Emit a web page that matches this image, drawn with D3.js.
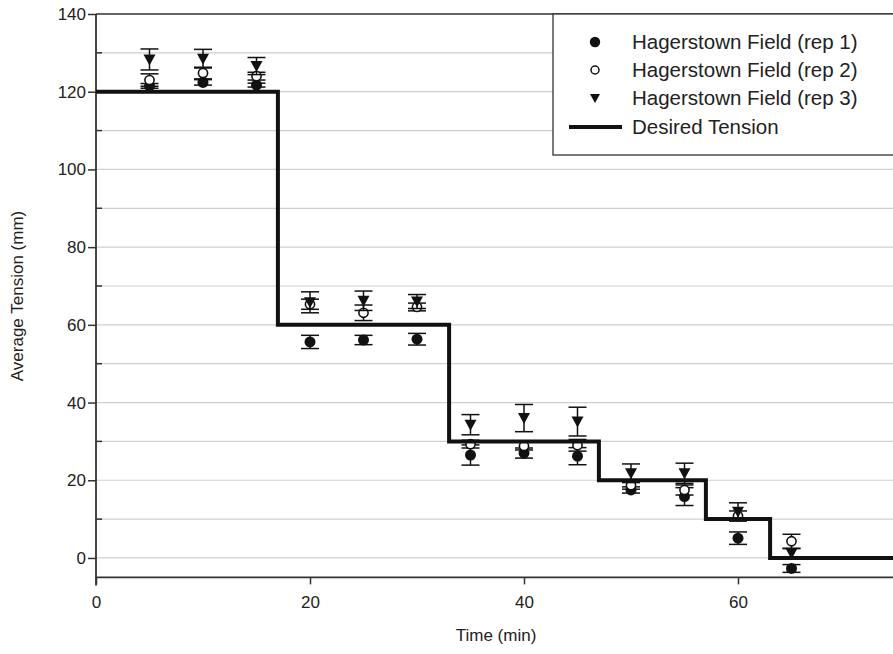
<!DOCTYPE html>
<html>
<head>
<meta charset="utf-8">
<script src="https://cdn.jsdelivr.net/npm/d3@7"></script>
<style>
  body { margin: 0; background: #fff; }
  svg text { font-family: "Liberation Sans", Arial, sans-serif; fill: #222; }
</style>
</head>
<body>
<div id="chart"></div>
<script>
// sampling times (min)
var times = [5, 10, 15, 20, 25, 30, 35, 40, 45, 50, 55, 60, 65];

// average tension (mm) and error for each rep
var rep1 = [121.5, 122.4, 121.7, 55.6, 56.1, 56.3, 26.5, 27.0, 26.2, 17.5, 15.8, 5.1, -2.7];
var rep1Err = [0.6, 0.7, 0.5, 1.7, 1.2, 1.5, 2.6, 1.3, 2.2, 0.8, 2.3, 1.6, 1.0];
var rep2 = [123.0, 124.8, 124.0, 65.3, 63.1, 64.6, 29.3, 28.8, 29.0, 18.7, 17.5, 10.8, 4.3];
var rep2Err = [1.6, 1.5, 1.0, 1.3, 2.0, 1.0, 1.0, 1.0, 1.5, 1.0, 1.3, 1.3, 1.8];
var rep3 = [128.3, 128.5, 126.6, 65.8, 66.2, 66.0, 34.3, 36.0, 35.1, 21.8, 21.8, 11.9, 1.2];
var rep3Err = [2.7, 2.4, 2.2, 2.7, 2.5, 1.8, 2.6, 3.5, 3.7, 2.4, 2.6, 2.3, 1.2];

// desired tension steps
var stepTimes = [0, 17, 33, 47, 57, 63, 75];
var stepValues = [120, 60, 30, 20, 10, 0, 0];

var legendLabels = ["Hagerstown Field (rep 1)", "Hagerstown Field (rep 2)", "Hagerstown Field (rep 3)", "Desired Tension"];

var width = 893, height = 654;
var svg = d3.select("#chart").append("svg")
    .attr("width", width)
    .attr("height", height);

var x = d3.scaleLinear().domain([0, 75]).range([96, 898.5]);
var y = d3.scaleLinear().domain([-5, 140]).range([577.4, 14]);

// grid lines
svg.append("g")
    .selectAll("line")
    .data(d3.range(0, 140, 10))
    .enter().append("line")
    .attr("x1", x(0)).attr("x2", width)
    .attr("y1", function (d) { return y(d); })
    .attr("y2", function (d) { return y(d); })
    .attr("stroke", "#cfcfcf")
    .attr("stroke-width", 1.2);

// top frame
svg.append("line")
    .attr("x1", x(0)).attr("x2", width)
    .attr("y1", y(140)).attr("y2", y(140))
    .attr("stroke", "#333").attr("stroke-width", 1.5);

// y axis (major ticks outside)
var yAxis = d3.axisLeft(y).tickValues(d3.range(0, 141, 20)).tickSize(8).tickPadding(2);
var gy = svg.append("g").attr("transform", "translate(" + x(0) + ",0)").call(yAxis);
gy.select(".domain").remove();
gy.selectAll("line").attr("stroke", "#333").attr("stroke-width", 1.5);
gy.selectAll("text").style("font-size", "17px").attr("fill", "#222");

// minor ticks inside
svg.append("g")
    .selectAll("line")
    .data(d3.range(10, 140, 20))
    .enter().append("line")
    .attr("x1", x(0)).attr("x2", x(0) + 6)
    .attr("y1", function (d) { return y(d); })
    .attr("y2", function (d) { return y(d); })
    .attr("stroke", "#333").attr("stroke-width", 1.5);

// x axis
var xAxis = d3.axisBottom(x).tickValues([0, 20, 40, 60]).tickSize(7).tickPadding(12);
var gx = svg.append("g").attr("transform", "translate(0," + y(-5) + ")").call(xAxis);
gx.select(".domain").remove();
gx.selectAll("line").attr("stroke", "#333").attr("stroke-width", 1.5);
gx.selectAll("text").style("font-size", "17px").attr("fill", "#222");

// axis lines
svg.append("line")
    .attr("x1", x(0)).attr("x2", width)
    .attr("y1", y(-5)).attr("y2", y(-5))
    .attr("stroke", "#333").attr("stroke-width", 1.8);
svg.append("line")
    .attr("x1", x(0)).attr("x2", x(0))
    .attr("y1", y(140)).attr("y2", y(-5) + 8)
    .attr("stroke", "#333").attr("stroke-width", 1.8);

// axis titles
svg.append("text")
    .attr("x", 496).attr("y", 641)
    .attr("text-anchor", "middle")
    .style("font-size", "17px")
    .text("Time (min)");
svg.append("text")
    .attr("transform", "translate(23,296) rotate(-90)")
    .attr("text-anchor", "middle")
    .style("font-size", "17px")
    .text("Average Tension (mm)");

var reps = [
    { values: rep1, err: rep1Err, type: "filled" },
    { values: rep2, err: rep2Err, type: "open" },
    { values: rep3, err: rep3Err, type: "tri" }
];

var capW = 9;
var triPath = "M-6,-5L6,-5L0,6Z";

function drawMarker(g, type) {
    if (type === "filled") {
        g.append("circle").attr("r", 5.5).attr("fill", "#111");
    } else if (type === "open") {
        g.append("circle").attr("r", 4.6).attr("fill", "#fff")
            .attr("stroke", "#111").attr("stroke-width", 1.6);
    } else {
        g.append("path").attr("d", triPath).attr("fill", "#111");
    }
}

reps.forEach(function (rep) {
    var g = svg.append("g");
    var pts = g.selectAll(".pt")
        .data(times.map(function (t, i) { return { t: t, v: rep.values[i], e: rep.err[i] }; }))
        .enter().append("g")
        .attr("class", "pt");

    pts.append("line")
        .attr("x1", function (d) { return x(d.t); })
        .attr("x2", function (d) { return x(d.t); })
        .attr("y1", function (d) { return y(d.v + d.e); })
        .attr("y2", function (d) { return y(d.v - d.e); })
        .attr("stroke", "#111").attr("stroke-width", 1.5);
    [1, -1].forEach(function (s) {
        pts.append("line")
            .attr("x1", function (d) { return x(d.t) - capW; })
            .attr("x2", function (d) { return x(d.t) + capW; })
            .attr("y1", function (d) { return y(d.v + s * d.e); })
            .attr("y2", function (d) { return y(d.v + s * d.e); })
            .attr("stroke", "#111").attr("stroke-width", 1.5);
    });
    pts.each(function (d) {
        var m = d3.select(this).append("g")
            .attr("transform", "translate(" + x(d.t) + "," + y(d.v) + ")");
        drawMarker(m, rep.type);
    });
});

// desired tension line
var stepData = stepTimes.map(function (t, i) { return [t, stepValues[i]]; });
var line = d3.line()
    .x(function (d) { return x(d[0]); })
    .y(function (d) { return y(d[1]); })
    .curve(d3.curveStepAfter);
svg.append("path")
    .datum(stepData)
    .attr("d", line)
    .attr("fill", "none")
    .attr("stroke", "#111")
    .attr("stroke-width", 4);

// legend
var lg = svg.append("g");
lg.append("rect")
    .attr("x", 553).attr("y", 14)
    .attr("width", 360).attr("height", 141)
    .attr("fill", "#fff")
    .attr("stroke", "#333").attr("stroke-width", 1.3);

var rowY = [42, 70, 98, 127];
["filled", "open", "tri"].forEach(function (type, i) {
    var m = lg.append("g").attr("transform", "translate(595," + rowY[i] + ")");
    if (type === "tri") {
        m.append("path").attr("d", "M-5,-4L5,-4L0,5Z").attr("fill", "#111");
    } else if (type === "open") {
        m.append("circle").attr("r", 4).attr("fill", "#fff")
            .attr("stroke", "#111").attr("stroke-width", 1.5);
    } else {
        m.append("circle").attr("r", 5.2).attr("fill", "#111");
    }
});
lg.append("line")
    .attr("x1", 569).attr("x2", 622)
    .attr("y1", rowY[3]).attr("y2", rowY[3])
    .attr("stroke", "#111").attr("stroke-width", 4);

lg.selectAll(".lt")
    .data(legendLabels)
    .enter().append("text")
    .attr("class", "lt")
    .attr("x", 632)
    .attr("y", function (d, i) { return rowY[i] + 7; })
    .style("font-size", "20.5px")
    .text(function (d) { return d; });
</script>
</body>
</html>
